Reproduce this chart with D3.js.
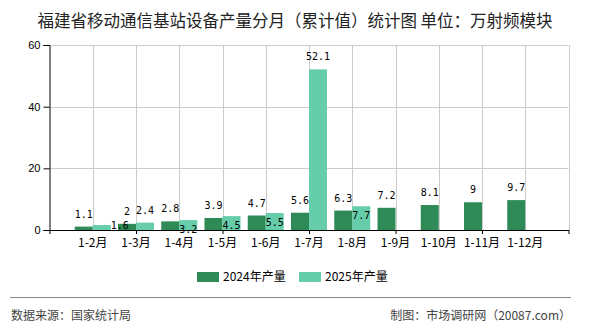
<!DOCTYPE html>
<html>
<head>
<meta charset="utf-8">
<script src="https://cdn.jsdelivr.net/npm/d3@7"></script>
<style>
  body { margin: 0; background: #fff; }
  svg { display: block; }
</style>
</head>
<body>
<svg width="590" height="330"></svg>
<script>
// chart data
var categories = ['1-2月', '1-3月', '1-4月', '1-5月', '1-6月', '1-7月', '1-8月', '1-9月', '1-10月', '1-11月', '1-12月'];
var values2024 = [1.1, 2, 2.8, 3.9, 4.7, 5.6, 6.3, 7.2, 8.1, 9, 9.7];
var values2025 = [1.6, 2.4, 3.2, 4.5, 5.5, 52.1, 7.7];
var yTicks = [0, 20, 40, 60];
var seriesNames = ['2024年产量', '2025年产量'];

// where each 2025 label sits (the original dodges overlaps this way)
var placement2025 = ['right', 'top', 'inside', 'inside', 'inside', 'top', 'inside'];

var COLOR_2024 = '#2e8b57';
var COLOR_2025 = '#66cdaa';
var GRID = '#cccccc';
var CJK = '"Noto Sans CJK SC", "Noto Sans", sans-serif';
var MONO = '"DejaVu Sans Mono", monospace';

var svg = d3.select('svg');
// note: "top" is taken by window.top, so the plot box uses its own names
var plotLeft = 49.5, plotRight = 568.5, plotTop = 45, plotBottom = 230;
var barW = 18;

// categories sit on the band boundaries: slot 0 is the y axis, slot 12 the right edge
var x = d3.scaleLinear().domain([0, categories.length + 1]).range([plotLeft, plotRight]);
var y = d3.scaleLinear().domain([0, 60]).range([plotBottom, plotTop]);

// title
svg.append('text')
    .attr('x', 295).attr('y', 27)
    .attr('text-anchor', 'middle')
    .attr('font-family', CJK)
    .attr('font-size', 16.5)
    .attr('fill', '#222')
    .text('福建省移动通信基站设备产量分月（累计值）统计图 单位：万射频模块');

// gridlines
var grid = svg.append('g');
grid.selectAll('line.h')
    .data(yTicks.filter(function (d) { return d > 0; }))
    .enter().append('line')
    .attr('x1', plotLeft).attr('x2', plotRight)
    .attr('y1', function (d) { return Math.round(y(d)) + 0.5; })
    .attr('y2', function (d) { return Math.round(y(d)) + 0.5; })
    .attr('stroke', GRID);
grid.selectAll('line.v')
    .data(d3.range(1, categories.length + 2))
    .enter().append('line')
    .attr('x1', function (d) { return Math.round(x(d)) + 0.5; })
    .attr('x2', function (d) { return Math.round(x(d)) + 0.5; })
    .attr('y1', plotTop).attr('y2', plotBottom)
    .attr('stroke', GRID);

// bars
svg.selectAll('rect.b2024')
    .data(values2024)
    .enter().append('rect')
    .attr('x', function (d, i) { return x(i + 1) - barW; })
    .attr('y', function (d) { return y(d); })
    .attr('width', barW)
    .attr('height', function (d) { return plotBottom - y(d); })
    .attr('fill', COLOR_2024);

svg.selectAll('rect.b2025')
    .data(values2025)
    .enter().append('rect')
    .attr('x', function (d, i) { return x(i + 1); })
    .attr('y', function (d) { return y(d); })
    .attr('width', barW)
    .attr('height', function (d) { return plotBottom - y(d); })
    .attr('fill', COLOR_2025);

// axes
var yAxis = svg.append('g')
    .attr('transform', 'translate(' + plotLeft + ',0)')
    .call(d3.axisLeft(y).tickValues(yTicks).tickSize(6).tickPadding(3));
yAxis.selectAll('text').attr('font-family', '"Liberation Sans", Arial, sans-serif').attr('font-size', 11).attr('fill', '#000');
yAxis.selectAll('line, path').attr('stroke', '#000');

var xAxis = svg.append('g')
    .attr('transform', 'translate(0,' + plotBottom + ')')
    .call(d3.axisBottom(x).tickValues(d3.range(0, categories.length + 2, 2)).tickSize(4).tickSizeOuter(0).tickFormat(''));
xAxis.selectAll('line, path').attr('stroke', '#000');

svg.selectAll('text.xlab')
    .data(categories)
    .enter().append('text')
    .attr('x', function (d, i) { return x(i + 1); })
    .attr('y', 247)
    .attr('text-anchor', 'middle')
    .attr('font-family', CJK)
    .attr('font-size', 12)
    .attr('fill', '#000')
    .text(function (d) { return d; });

// value labels
svg.selectAll('text.l2024')
    .data(values2024)
    .enter().append('text')
    .attr('x', function (d, i) { return x(i + 1) - barW / 2; })
    .attr('y', function (d) { return y(d) - 9; })
    .attr('text-anchor', 'middle')
    .attr('font-family', MONO)
    .attr('font-size', 10)
    .attr('fill', '#000')
    .text(function (d) { return d; });

svg.selectAll('text.l2025')
    .data(values2025)
    .enter().append('text')
    .attr('x', function (d, i) {
        if (placement2025[i] === 'right') { return x(i + 1) + barW; }
        return x(i + 1) + barW / 2;
    })
    .attr('y', function (d, i) {
        var p = placement2025[i];
        if (p === 'top') { return y(d) - 9; }
        if (p === 'inside') { return y(d) + 12.5; }
        return y(d) + 3.6;
    })
    .attr('text-anchor', function (d, i) { return placement2025[i] === 'right' ? 'start' : 'middle'; })
    .attr('font-family', MONO)
    .attr('font-size', 10)
    .attr('fill', '#000')
    .text(function (d) { return d; });

// legend
var legend = svg.selectAll('g.legend')
    .data(seriesNames)
    .enter().append('g')
    .attr('transform', function (d, i) { return 'translate(' + (197 + i * 102) + ',272)'; });
legend.append('rect')
    .attr('width', 22).attr('height', 10)
    .attr('fill', function (d, i) { return i === 0 ? COLOR_2024 : COLOR_2025; });
legend.append('text')
    .attr('x', 26).attr('y', 9)
    .attr('font-family', CJK)
    .attr('font-size', 12)
    .attr('fill', '#000')
    .text(function (d) { return d; });

// footer
svg.append('line')
    .attr('x1', 10).attr('x2', 571)
    .attr('y1', 297.5).attr('y2', 297.5)
    .attr('stroke', '#888');
svg.append('text')
    .attr('x', 11).attr('y', 320)
    .attr('font-family', CJK)
    .attr('font-size', 12)
    .attr('fill', '#444')
    .text('数据来源：国家统计局');
svg.append('text')
    .attr('x', 571).attr('y', 320)
    .attr('text-anchor', 'end')
    .attr('font-family', CJK)
    .attr('font-size', 12)
    .attr('fill', '#444')
    .text('制图：市场调研网（20087.com）');
</script>
</body>
</html>
